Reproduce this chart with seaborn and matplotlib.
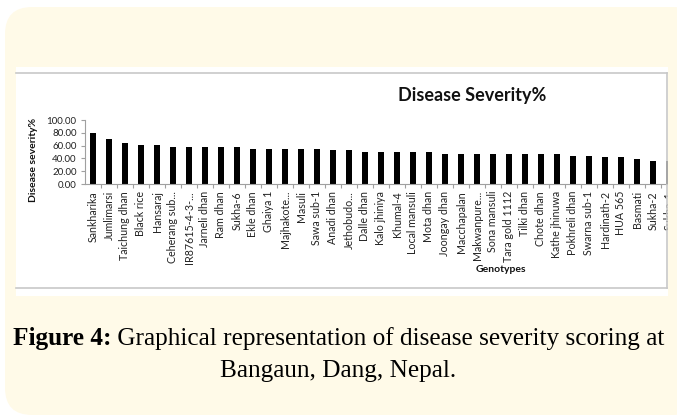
import matplotlib
matplotlib.use("Agg")
import matplotlib.pyplot as plt
import seaborn as sns
import pandas as pd
from matplotlib.patches import FancyBboxPatch, Rectangle
from matplotlib.lines import Line2D
from matplotlib.ticker import FormatStrFormatter, FixedLocator

# Data
genotypes = [
    "Sankharika", "Jumlimarsi", "Taichung dhan", "Black rice", "Hansaraj",
    "Ceherang sub...", "IR87615-4-3-...", "Jarneli dhan", "Ram dhan", "Sukha-6",
    "Ekle dhan", "Ghaiya 1", "Majhakote...", "Masuli", "Sawa sub-1",
    "Anadi dhan", "Jethobudo...", "Dalle dhan", "Kalo jhiniya", "Khumal-4",
    "Local mansuli", "Mota dhan", "Joongay dhan", "Macchapalan", "Makwanpure...",
    "Sona mansuli", "Tara gold 1112", "Tilki dhan", "Chote dhan", "Kathe jhinuwa",
    "Pokhreli dhan", "Swarna sub-1", "Hardinath-2", "HUA 565", "Basmati",
    "Sukha-2", "Sukha-1",
]
severity = [
    80.0, 69.6, 64.0, 61.3, 61.3,
    58.3, 58.3, 58.3, 58.3, 58.3,
    54.7, 54.7, 54.7, 54.7, 54.7,
    52.6, 52.6, 49.5, 49.5, 49.5,
    49.5, 49.5, 46.9, 46.9, 46.9,
    46.9, 46.9, 46.9, 46.9, 46.9,
    43.8, 43.8, 41.7, 41.7, 38.5,
    35.4, 35.4,
]
y_ticks = [0, 20, 40, 60, 80, 100]

df = pd.DataFrame({"Genotype": genotypes, "Severity": severity})

W, H = 677, 416
CREAM = "#fffae8"
GRID = "#c8c8c8"
plt.rcParams["font.family"] = ["Lato", "DejaVu Sans"]

fig = plt.figure(figsize=(W / 100, H / 100), dpi=100)
fig.patch.set_facecolor("white")


def fx(x):
    return x / W


def fy(y):
    return 1 - y / H


# cream rounded card and white chart panel
fig.patches.append(FancyBboxPatch((fx(5), fy(415)), fx(700) - fx(5), fy(7) - fy(415),
                                  boxstyle="round,pad=0,rounding_size=0.04",
                                  transform=fig.transFigure, facecolor=CREAM,
                                  edgecolor="none", zorder=-10, mutation_aspect=W / H))
fig.patches.append(Rectangle((fx(16), fy(296)), fx(668) - fx(16), fy(67) - fy(296),
                             transform=fig.transFigure, facecolor="white",
                             edgecolor="none", zorder=-9))

ax = fig.add_axes([fx(85), fy(184), fx(677) - fx(85), fy(120) - fy(184)])
ax.set_facecolor("none")
sns.barplot(data=df, x="Genotype", y="Severity", color="black", width=0.42,
            saturation=1, ax=ax)
ax.set_xlim(-0.5, len(genotypes) - 0.5)
ax.set_ylim(0, 100)
ax.yaxis.set_major_locator(FixedLocator(y_ticks))
ax.yaxis.set_major_formatter(FormatStrFormatter("%.2f"))
for s in ["top", "right"]:
    ax.spines[s].set_visible(False)
ax.spines["left"].set_color("#a0a0a0")
ax.spines["bottom"].set_color("#a0a0a0")
ax.spines["left"].set_linewidth(0.8)
ax.spines["bottom"].set_linewidth(0.8)
ax.tick_params(axis="y", length=3, width=0.8, color="#a0a0a0", labelsize=7, pad=3,
               labelcolor="#222222")
ax.tick_params(axis="x", which="major", length=0, labelsize=7.7, pad=5,
               labelcolor="#222222", rotation=90)
ax.set_xticks([i + 0.5 for i in range(len(genotypes))], minor=True)
ax.tick_params(axis="x", which="minor", length=3, width=0.8, color="#a0a0a0")
ax.set_xlabel("")
ax.set_ylabel("")

fig.text(fx(33), fy(160), "Disease severity%", rotation=90, fontsize=7.5,
         fontweight="bold", ha="center", va="center", color="#111111")
fig.text(fx(501), fy(270), "Genotypes", fontsize=7.5, fontweight="bold",
         ha="center", va="center", color="#111111")
fig.text(fx(472), fy(95), "Disease Severity%", fontsize=13, fontweight="bold",
         ha="center", va="center", color="#111111")

# cover the cropped right edge, then draw chart border lines
fig.patches.append(Rectangle((fx(668), fy(300)), fx(680) - fx(668), fy(60) - fy(300),
                             transform=fig.transFigure, facecolor=CREAM,
                             edgecolor="none", zorder=5))
fig.lines.append(Line2D([fx(16), fx(667)], [fy(73), fy(73)], transform=fig.transFigure,
                        color=GRID, lw=1.2, zorder=6))
fig.lines.append(Line2D([fx(16), fx(667)], [fy(288), fy(288)], transform=fig.transFigure,
                        color=GRID, lw=1.2, zorder=6))
fig.lines.append(Line2D([fx(667), fx(667)], [fy(73), fy(288)], transform=fig.transFigure,
                        color=GRID, lw=1.2, zorder=6))

# caption with bold lead-in
cap_font = dict(family="Liberation Serif", fontsize=18.2, color="black")
renderer = fig.canvas.get_renderer()
t1 = fig.text(0, fy(339), "Figure 4:", fontweight="bold", va="center", **cap_font)
t2 = fig.text(0, fy(339), " Graphical representation of disease severity scoring at",
              va="center", **cap_font)
w1 = t1.get_window_extent(renderer).width
w2 = t2.get_window_extent(renderer).width
x0 = (W - (w1 + w2)) / 2
t1.set_x(x0 / W)
t2.set_x((x0 + w1) / W)
fig.text(0.5, fy(371), "Bangaun, Dang, Nepal.", ha="center", va="center", **cap_font)

fig.savefig("out.png", dpi=100)
